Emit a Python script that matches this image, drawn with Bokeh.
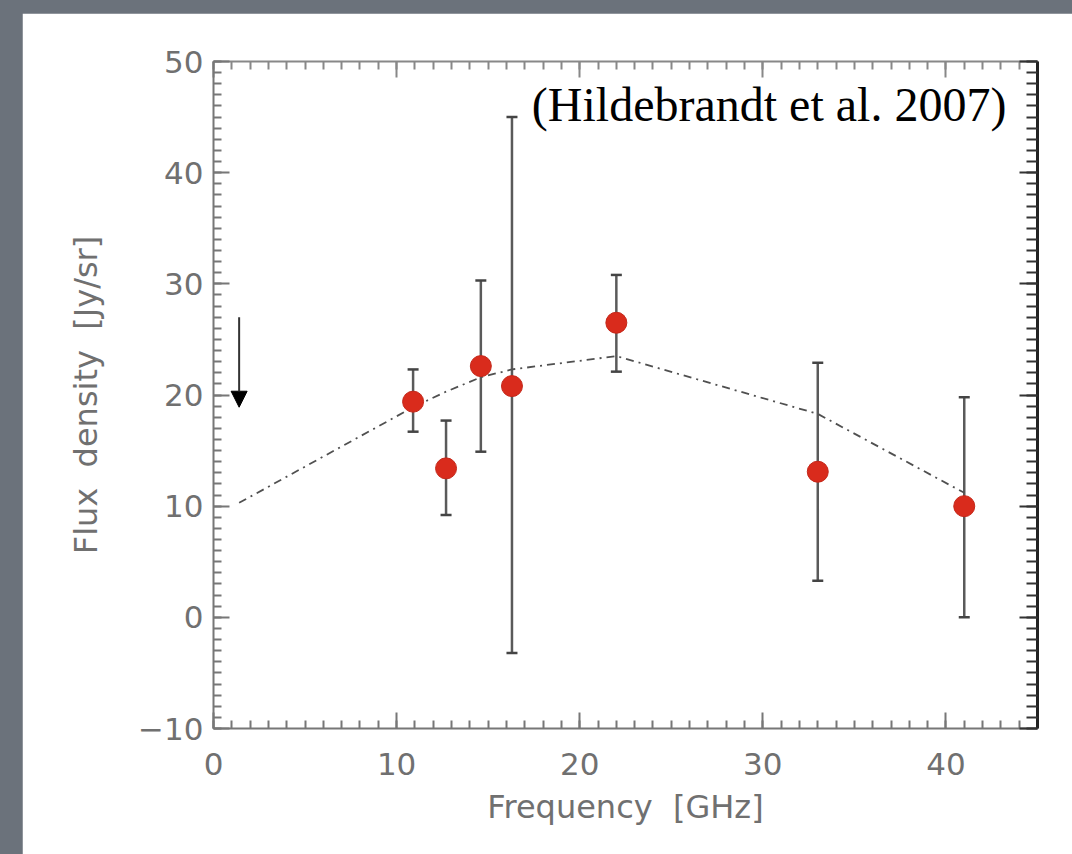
from bokeh.plotting import figure
from bokeh.layouts import column
from bokeh.models import (LinearAxis, SingleIntervalTicker, Whisker, ColumnDataSource,
                          Arrow, NormalHead, TeeHead, Label, Range1d, CustomLabelingPolicy)
from bokeh.embed import file_html
from bokeh.resources import INLINE

# ---- data ----
freq = [10.9, 12.7, 14.6, 16.3, 22.0, 33.0, 41.0]
flux = [19.4, 13.4, 22.6, 20.8, 26.5, 13.1, 10.0]
err_upper = [22.3, 17.7, 30.3, 45.0, 30.8, 22.9, 19.8]
err_lower = [16.7, 9.2, 14.9, -3.2, 22.1, 3.3, 0.0]

model_freq = [1.4, 10.9, 12.7, 14.6, 16.3, 22.0, 33.0, 41.0]
model_flux = [10.3, 18.9, 20.3, 21.6, 22.3, 23.5, 18.3, 11.2]

limit_freq = [1.4]
limit_top = [27.0]
limit_tip = [18.9]

x_ticks = [0, 10, 20, 30, 40]
y_ticks = [-10, 0, 10, 20, 30, 40, 50]
x_label = "Frequency\u00a0 [GHz]"
y_label = "Flux\u00a0 density\u00a0 [Jy/sr]"
citation = "(Hildebrandt et al. 2007)"

TXT = "#707070"
FONT = "DejaVu Sans"

p = figure(frame_width=824, frame_height=667,
           min_border_left=191, min_border_right=35, min_border_top=48, min_border_bottom=126,
           x_range=Range1d(0, 45), y_range=Range1d(-10, 50),
           output_backend="svg", toolbar_location=None,
           x_axis_location=None, y_axis_location=None)
p.border_fill_color = "white"
p.background_fill_color = "white"
p.outline_line_color = None
p.xgrid.visible = False
p.ygrid.visible = False
p.margin = (13, 0, 0, 22)

hide_labels = CustomLabelingPolicy(code="""
for (const i of indices) indices.unset(i)
return indices
""")


def style_axis(ax, labels=True, color="#777777", width=2, tick_color=None):
    tc = tick_color or color
    ax.ticker = SingleIntervalTicker(interval=10, num_minor_ticks=10)
    ax.axis_line_color = color
    ax.axis_line_width = width
    ax.major_tick_line_color = tc
    ax.minor_tick_line_color = tc
    ax.major_tick_line_width = 2
    ax.minor_tick_line_width = 2
    ax.major_tick_in = 16
    ax.major_tick_out = 0
    ax.minor_tick_in = 8
    ax.minor_tick_out = 0
    if labels:
        ax.major_label_text_font = FONT
        ax.major_label_text_font_size = "31px"
        ax.major_label_text_color = TXT
        ax.axis_label_text_font = FONT
        ax.axis_label_text_font_size = "32px"
        ax.axis_label_text_color = TXT
        ax.axis_label_text_font_style = "normal"
    else:
        ax.major_label_policy = hide_labels
        ax.major_label_standoff = 0


xb = LinearAxis(axis_label=x_label)
style_axis(xb)
xb.major_label_standoff = 24
xb.axis_label_standoff = 10
p.add_layout(xb, "below")

yl = LinearAxis(axis_label=y_label)
style_axis(yl)
yl.major_label_standoff = 10
yl.axis_label_standoff = 30
yl.major_label_overrides = {t: str(t).replace("-", "\u2212") for t in y_ticks}
p.add_layout(yl, "left")

xt = LinearAxis()
style_axis(xt, labels=False, color="#888888")
p.add_layout(xt, "above")

yr = LinearAxis()
style_axis(yr, labels=False, color="#222222", width=3, tick_color="#333333")
yr.minor_tick_in = 11
yr.major_tick_in = 18
p.add_layout(yr, "right")

# model curve
p.line(model_freq, model_flux, line_color="#505050", line_width=1.8, line_dash="8 5 2 5")

# error bars
src = ColumnDataSource(dict(freq=freq, flux=flux, upper=err_upper, lower=err_lower))
wh = Whisker(base="freq", upper="upper", lower="lower", source=src, dimension="height",
             line_color="#5a5a5a", line_width=2.5,
             upper_head=TeeHead(size=11, line_color="#444444", line_width=2.5),
             lower_head=TeeHead(size=11, line_color="#444444", line_width=2.5))
p.add_layout(wh)

# data points
p.scatter("freq", "flux", source=src, size=21, fill_color="#d92b1c", line_color="#c4281a",
          line_width=1)

# upper limit arrow
p.add_layout(Arrow(x_start=limit_freq[0], y_start=limit_top[0],
                   x_end=limit_freq[0], y_end=limit_tip[0],
                   line_color="#333333", line_width=2,
                   end=NormalHead(size=16, fill_color="black", line_color="black")))

# citation
p.add_layout(Label(x=43.3, y=46.1, text=citation, text_align="right",
                   text_baseline="alphabetic", text_font="Liberation Serif",
                   text_font_size="48px", text_color="black"))

root = column(p, styles={"background-color": "#6b727b"}, width=1072, height=854)

open("out.html", "w").write(file_html(root, INLINE))
